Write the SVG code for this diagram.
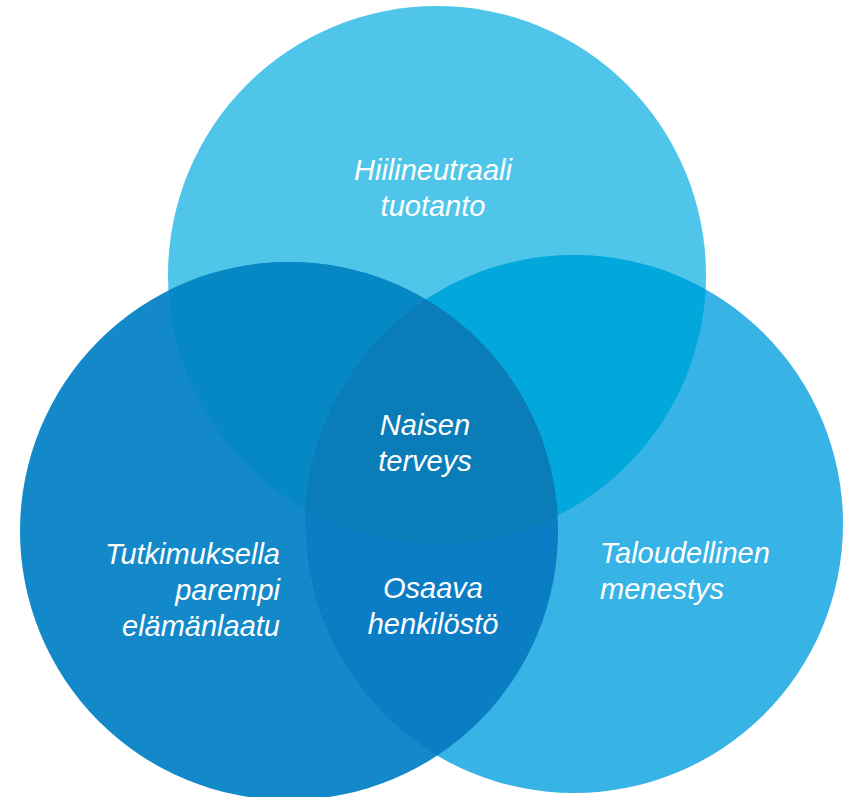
<svg xmlns="http://www.w3.org/2000/svg" width="857" height="797" viewBox="0 0 857 797">
<style>
text{font-family:"Liberation Sans",Arial,sans-serif;font-style:italic;font-size:29px;fill:#fff}
.m{text-anchor:middle}.e{text-anchor:end}
</style>
<defs>
<clipPath id="cT"><circle cx="437" cy="275" r="269"/></clipPath>
<clipPath id="cL"><circle cx="289" cy="531" r="269"/></clipPath>
<clipPath id="cR"><circle cx="574" cy="524" r="269"/></clipPath>
</defs>
<rect width="857" height="797" fill="#fff"/>
<g id="top"><circle cx="437" cy="275" r="269" fill="#4FC6E9"/></g>
<g id="left"><circle cx="289" cy="531" r="269" fill="#1389CA"/></g>
<g id="right"><circle cx="574" cy="524" r="269" fill="#37B3E6"/></g>
<g id="top-left" clip-path="url(#cT)"><circle cx="289" cy="531" r="269" fill="#0588C4"/></g>
<g id="top-right" clip-path="url(#cT)"><circle cx="574" cy="524" r="269" fill="#02A8DC"/></g>
<g id="left-right" clip-path="url(#cL)"><circle cx="574" cy="524" r="269" fill="#0A7DC4"/></g>
<g id="center" clip-path="url(#cT)"><g clip-path="url(#cL)"><circle cx="574" cy="524" r="269" fill="#0A7DB9"/></g></g>
<g id="labels">
<text class="m" x="433" y="180">Hiilineutraali</text>
<text class="m" x="433" y="216">tuotanto</text>
<text class="m" x="425" y="435">Naisen</text>
<text class="m" x="425" y="471">terveys</text>
<text class="e" x="280" y="564">Tutkimuksella</text>
<text class="e" x="280" y="600">parempi</text>
<text class="e" x="280" y="636">elämänlaatu</text>
<text class="m" x="433" y="598">Osaava</text>
<text class="m" x="433" y="634">henkilöstö</text>
<text x="600" y="563">Taloudellinen</text>
<text x="600" y="599">menestys</text>
</g>
</svg>
